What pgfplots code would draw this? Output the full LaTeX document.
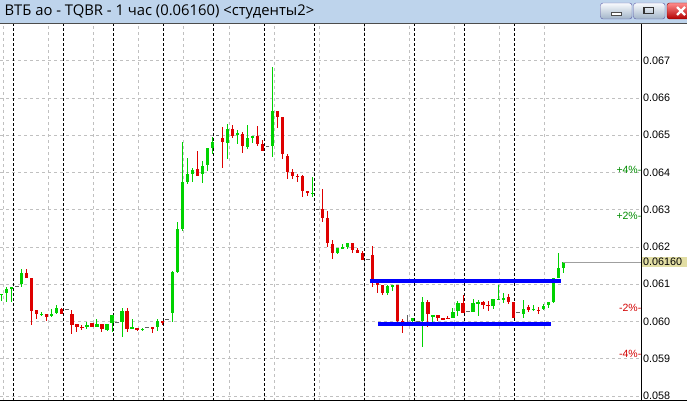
\documentclass[border=0pt]{standalone}
\usepackage{fontspec}
\setmainfont{Liberation Sans}
\newfontfamily\titlefont{Open Sans}
\usepackage{pgfplots}
\pgfplotsset{compat=1.18}
\usepackage{pgfplotstable}

\definecolor{bull}{RGB}{0,210,0}
\definecolor{bear}{RGB}{222,0,0}
\definecolor{flatc}{RGB}{100,100,100}
\definecolor{gridgray}{RGB}{192,192,192}
\definecolor{lvlblue}{RGB}{0,0,255}
\definecolor{pctgreen}{RGB}{0,140,0}
\definecolor{pctred}{RGB}{210,0,0}
\definecolor{pricebox}{RGB}{226,222,164}
\definecolor{titlebar}{RGB}{190,212,236}

% hourly candles: bar index, open, high, low, close
\pgfplotstableread{
i o h l c
0 0.060725 0.060752 0.060559 0.060752
1 0.060757 0.060935 0.060532 0.060865
2 0.060873 0.060918 0.060532 0.060918
4 0.061007 0.061410 0.060935 0.061310
8 0.060188 0.060264 0.060148 0.060215
10 0.060148 0.060336 0.060129 0.060202
11 0.060221 0.060443 0.060202 0.060355
17 0.059861 0.059979 0.059791 0.059907
19 0.059845 0.060068 0.059845 0.059933
21 0.059772 0.059933 0.059754 0.059933
22 0.059952 0.060175 0.059727 0.060175
24 0.059995 0.060355 0.059593 0.060290
26 0.059799 0.060068 0.059799 0.059845
28 0.059778 0.059826 0.059754 0.059805
31 0.059861 0.060068 0.059754 0.060014
34 0.060221 0.061356 0.059995 0.061321
35 0.061321 0.062663 0.061294 0.062483
36 0.062483 0.064826 0.062438 0.063736
37 0.063753 0.064397 0.063691 0.063959
38 0.063959 0.064128 0.063753 0.064067
40 0.063959 0.064308 0.063726 0.064174
41 0.064201 0.064649 0.064048 0.064649
42 0.064665 0.064944 0.064496 0.064826
45 0.064799 0.065293 0.064354 0.065159
47 0.065006 0.065140 0.064764 0.065052
49 0.064676 0.065274 0.064622 0.064917
50 0.064917 0.064979 0.064783 0.064979
54 0.064719 0.066823 0.064424 0.065650
62 0.063428 0.063887 0.063334 0.063455
67 0.061847 0.061965 0.061812 0.061965
68 0.061968 0.062072 0.061938 0.061995
69 0.062008 0.062099 0.061946 0.062099
77 0.060774 0.060980 0.060712 0.060953
78 0.060953 0.060980 0.060827 0.060980
82 0.060022 0.060086 0.059968 0.060086
84 0.060014 0.060650 0.059308 0.060516
86 0.060143 0.060170 0.059995 0.060170
90 0.060103 0.060355 0.060086 0.060264
91 0.060282 0.060551 0.060148 0.060505
94 0.060264 0.060596 0.060264 0.060505
95 0.060492 0.060578 0.060148 0.060519
98 0.060425 0.060596 0.060328 0.060596
99 0.060583 0.060980 0.060583 0.060610
100 0.060596 0.060774 0.060505 0.060639
104 0.060202 0.060578 0.060103 0.060336
106 0.060315 0.060443 0.060282 0.060341
108 0.060336 0.060462 0.060309 0.060425
109 0.060443 0.060532 0.060371 0.060532
110 0.060532 0.061176 0.060505 0.061160
111 0.061176 0.061831 0.061160 0.061428
112 0.061428 0.061600 0.061294 0.061600
}\upcandles

\pgfplotstableread{
i o h l c
5 0.061310 0.061410 0.061176 0.061176
6 0.061176 0.061176 0.059907 0.060290
7 0.060309 0.060309 0.060068 0.060202
9 0.060202 0.060202 0.060014 0.060129
12 0.060336 0.060355 0.060202 0.060202
14 0.060202 0.060309 0.059665 0.059907
15 0.059933 0.059933 0.059727 0.059845
16 0.059858 0.059907 0.059772 0.059831
18 0.059952 0.059952 0.059861 0.059861
20 0.059933 0.059933 0.059727 0.059799
25 0.060290 0.060355 0.059727 0.059791
27 0.059826 0.059826 0.059738 0.059772
30 0.059845 0.059845 0.059684 0.059799
32 0.060014 0.060014 0.059907 0.059979
39 0.064093 0.064576 0.063914 0.063914
44 0.064917 0.065213 0.064128 0.064826
46 0.065159 0.065274 0.064933 0.064987
48 0.065033 0.065094 0.064531 0.064719
51 0.064979 0.065256 0.064719 0.064764
52 0.064764 0.064872 0.064585 0.064585
55 0.065650 0.065650 0.065202 0.065497
56 0.065481 0.065481 0.064362 0.064496
57 0.064442 0.064488 0.063825 0.064021
58 0.064005 0.064093 0.063825 0.063914
59 0.063914 0.063959 0.063753 0.063879
60 0.063906 0.063932 0.063350 0.063511
61 0.063503 0.063503 0.063377 0.063441
64 0.063020 0.063557 0.062679 0.062786
65 0.062786 0.062966 0.062008 0.062099
66 0.062080 0.062188 0.061678 0.061847
70 0.062099 0.062099 0.061847 0.061920
71 0.061920 0.061965 0.061847 0.061847
72 0.061831 0.061901 0.061651 0.061651
74 0.061785 0.062027 0.060935 0.061114
75 0.061114 0.061114 0.060774 0.060980
76 0.060980 0.060980 0.060712 0.060774
79 0.060980 0.060980 0.059968 0.060022
80 0.060014 0.060060 0.059684 0.059968
85 0.060516 0.060578 0.059861 0.060202
87 0.060175 0.060175 0.060014 0.060086
88 0.060086 0.060103 0.060041 0.060060
89 0.060103 0.060148 0.060068 0.060068
92 0.060505 0.060712 0.060221 0.060221
96 0.060516 0.060551 0.060336 0.060443
97 0.060457 0.060551 0.060282 0.060430
101 0.060666 0.060739 0.060462 0.060532
102 0.060532 0.060532 0.060103 0.060103
105 0.060382 0.060443 0.060264 0.060309
107 0.060322 0.060382 0.060194 0.060296
}\downcandles

\pgfplotstableread{
i o h l c
3 0.060953 0.060953 0.060953 0.060953
13 0.060328 0.060328 0.060328 0.060328
23 0.059987 0.059987 0.059987 0.059987
29 0.059845 0.059845 0.059845 0.059845
33 0.060060 0.060060 0.060060 0.060060
43 0.064987 0.064987 0.064987 0.064987
53 0.064703 0.064703 0.064703 0.064703
63 0.063012 0.063012 0.063012 0.063012
73 0.061670 0.061670 0.061670 0.061670
81 0.059987 0.060175 0.059952 0.059987
83 0.059995 0.059995 0.059995 0.059995
93 0.060256 0.060256 0.060256 0.060256
103 0.060237 0.060237 0.060237 0.060237
}\flatcandles

\pgfplotsset{
  wick/.style={draw=none, mark=none, forget plot,
    error bars/.cd, y dir=both, y explicit, error mark=none,
    error bar style={draw=#1, line width=1pt}},
  body/.style={draw=none, mark=none, forget plot,
    error bars/.cd, y dir=both, y explicit, error mark=none,
    error bar style={draw=#1, line width=3.2pt}},
}

\begin{document}
\begin{tikzpicture}[x=1pt,y=1pt]
\useasboundingbox (0,0) rectangle (687,401);
\begin{axis}[
  at={(0,0)}, anchor=south west, scale only axis,
  width=641.5pt, height=376.5pt,
  xmin=-0.34, xmax=127.6, ymin=0.057867, ymax=0.067972,
  axis line style={draw=none}, major tick length=0pt,
  clip mode=individual,
  xtick={0.33,9.33,18.33,27.33,36.33,45.33,54.33,63.33,72.33,81.33,90.33,99.33,108.33},
  xticklabels={},
  extra x ticks={2.33,12.33,22.33,32.33,42.33,52.33,62.33,72.33,82.33,92.33,102.33},
  extra x tick labels={},
  extra x tick style={grid=major, major grid style={black, line width=1pt, dash pattern=on 3pt off 2pt}},
  ytick={0.058,0.059,0.060,0.061,0.062,0.063,0.064,0.065,0.066,0.067},
  xmajorgrids, ymajorgrids,
  major grid style={gridgray, line width=0.9pt, dash pattern=on 3pt off 3pt},
  yticklabel pos=right,
  scaled y ticks=false,
  yticklabel style={/pgf/number format/fixed, /pgf/number format/fixed zerofill,
    /pgf/number format/precision=3, /pgf/number format/assume math mode=true,
    font=\fontsize{10.8}{12}\selectfont, inner xsep=1.5pt, anchor=west, black},
]
% wicks and bodies
\addplot[wick=bull] table[x=i, y expr={(\thisrow{h}+\thisrow{l})/2}, y error expr={(\thisrow{h}-\thisrow{l})/2}] {\upcandles};
\addplot[body=bull] table[x=i, y expr={(\thisrow{o}+\thisrow{c})/2}, y error expr={abs(\thisrow{c}-\thisrow{o})/2}] {\upcandles};
\addplot[wick=bear] table[x=i, y expr={(\thisrow{h}+\thisrow{l})/2}, y error expr={(\thisrow{h}-\thisrow{l})/2}] {\downcandles};
\addplot[body=bear] table[x=i, y expr={(\thisrow{o}+\thisrow{c})/2}, y error expr={abs(\thisrow{c}-\thisrow{o})/2}] {\downcandles};
\addplot[wick=flatc] table[x=i, y expr={(\thisrow{h}+\thisrow{l})/2}, y error expr={(\thisrow{h}-\thisrow{l})/2}] {\flatcandles};
\addplot[only marks, mark=-, mark size=1.8pt, mark options={draw=flatc, line width=1pt}, forget plot] table[x=i, y=c] {\flatcandles};

% support / resistance levels
\addplot[lvlblue, line width=3.8pt, forget plot] coordinates {(73.45,0.061093) (111.5,0.061093)};
\addplot[lvlblue, line width=3.8pt, forget plot] coordinates {(75.05,0.059939) (109.5,0.059939)};
% current price line
\addplot[gray!75, line width=0.8pt, forget plot] coordinates {(112,0.0616) (127.6,0.0616)};

\draw[black, line width=1pt] (rel axis cs:1,0) -- (rel axis cs:1,1);

\node[anchor=east, inner sep=0pt, text=pctgreen, font=\fontsize{10.5}{11}\selectfont] at (axis cs:127.6,0.064064) {+4\%-};
\node[anchor=east, inner sep=0pt, text=pctgreen, font=\fontsize{10.5}{11}\selectfont] at (axis cs:127.6,0.062832) {+2\%-};
\node[anchor=east, inner sep=0pt, text=pctred, font=\fontsize{10.5}{11}\selectfont] at (axis cs:127.6,0.060368) {-2\%-};
\node[anchor=east, inner sep=0pt, text=pctred, font=\fontsize{10.5}{11}\selectfont] at (axis cs:127.6,0.059136) {-4\%-};
\node[anchor=west, fill=pricebox, inner xsep=1.5pt, inner ysep=1.2pt, text width=42pt, align=left,
  font=\fontsize{10.8}{12}\selectfont] at (axis cs:127.6,0.0616) {0.06160};
\end{axis}

% bottom border
\draw[black, line width=1pt] (0,0.5) -- (687,0.5);

% window title bar
\fill[titlebar] (0,377) rectangle (687,401);
\draw[gray!60!black, line width=1pt] (0,377) -- (687,377);
\node[anchor=west, inner sep=0pt] at (4.4,389.5) {\titlefont\fontsize{14.8}{16}\selectfont ВТБ ао - TQBR - 1 час (0.06160) <студенты2>};

% window buttons
\shade[top color=white!90!titlebar, bottom color=titlebar!85!black, rounded corners=2.5pt, draw=gray!70!blue] (600.5,382) rectangle (632,398);
\fill[white, draw=gray!60!black, line width=0.6pt] (611,385.5) rectangle (621,388.5);
\shade[top color=white!90!titlebar, bottom color=titlebar!85!black, rounded corners=2.5pt, draw=gray!70!blue] (633.5,382) rectangle (665,398);
\draw[gray!40!black, line width=1.6pt] (644,387.5) rectangle (653.5,393.5);
\shade[top color=red!45!white, bottom color=red!70!black, rounded corners=2.5pt, draw=red!50!black] (667,382) rectangle (692,398);
\draw[white, line width=2.2pt] (677,386) -- (685,394) (677,394) -- (685,386);
\end{tikzpicture}
\end{document}
